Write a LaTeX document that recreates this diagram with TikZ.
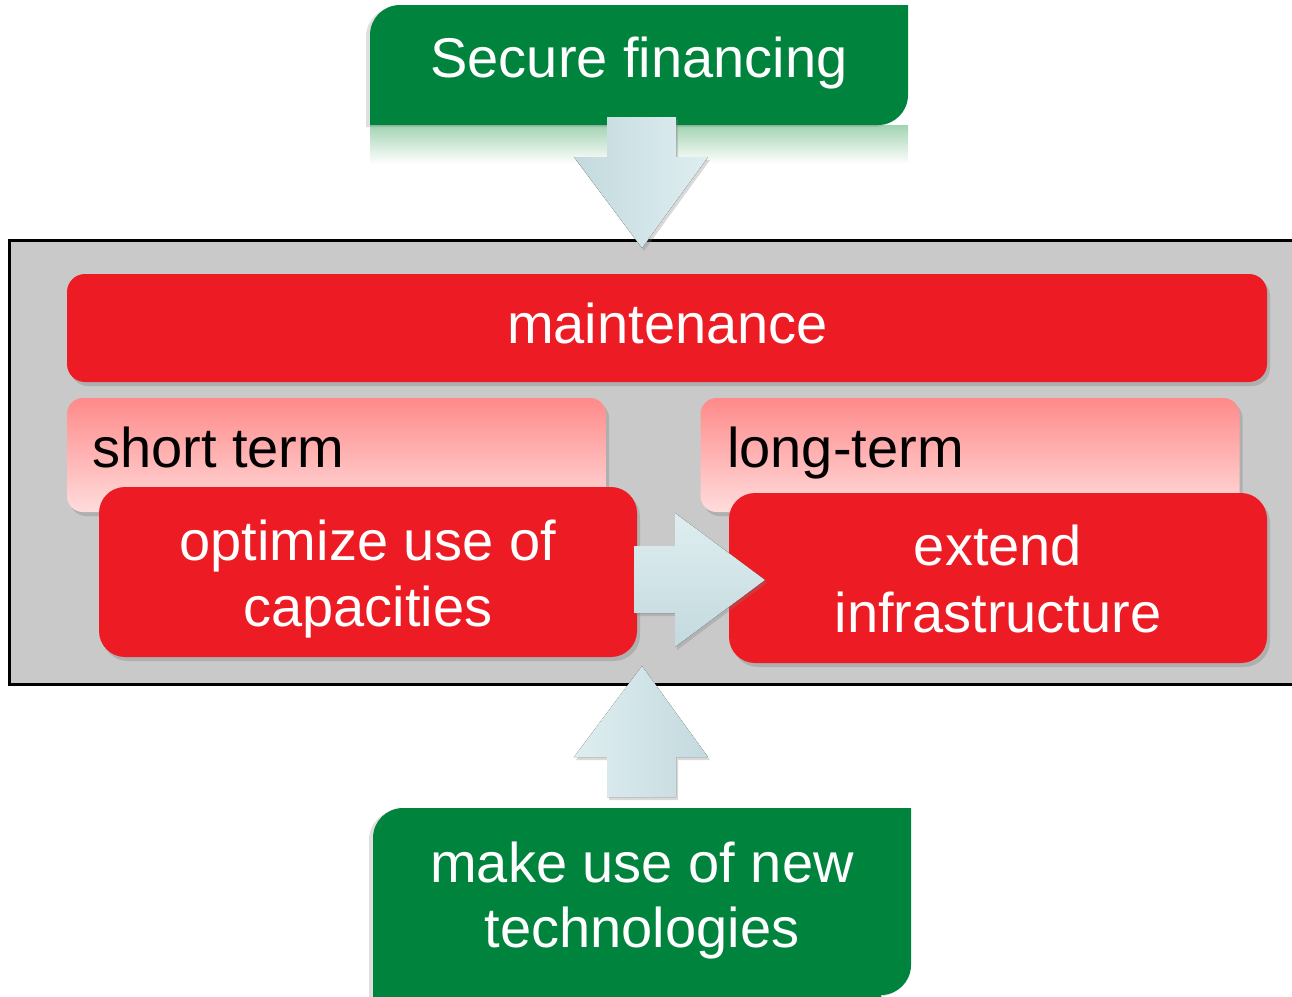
\documentclass[tikz,border=0pt]{standalone}
\usepackage{fontspec}
\setmainfont{Liberation Sans}
\usetikzlibrary{shadows}
\definecolor{grn}{HTML}{00843D}
\definecolor{rd}{HTML}{ED1C24}
\definecolor{panelgray}{HTML}{C9C9C9}
\definecolor{pinktop}{HTML}{FF8A8A}
\definecolor{pinkbot}{HTML}{FFDCDC}
\definecolor{arrA}{HTML}{C4DADE}
\definecolor{arrB}{HTML}{DEEEF0}
\definecolor{refl}{HTML}{A3D3B2}
\begin{document}
\begin{tikzpicture}[x=1pt,y=-1pt,
  txt/.style={font=\fontsize{56}{67}\selectfont, inner sep=0pt, anchor=base},
  wtxt/.style={txt, text=white},
  btxt/.style={txt, text=black, anchor=base west},
  boxshadow/.style={drop shadow={opacity=0.35, shadow xshift=3pt, shadow yshift=-4pt}},
  redbox/.style={fill=rd, draw=none, inner sep=0pt, boxshadow, minimum width=538pt, minimum height=170pt, rounded corners=26pt},
  pinkbox/.style={top color=pinktop, bottom color=pinkbot, draw=none, inner sep=0pt, boxshadow, minimum width=539pt, minimum height=114pt, rounded corners=16pt},
  greenshadow/.style={drop shadow={opacity=0.25, shadow xshift=-4pt, shadow yshift=-2pt}},
  blockarrow/.style={drop shadow={opacity=0.3, shadow xshift=2pt, shadow yshift=-3pt}}
]
\useasboundingbox (0,0) rectangle (1292,996);

% top green box with reflection
\fill[top color=refl, bottom color=white] (370,125) rectangle (908,164);
\fill[grn, greenshadow] (370,125) -- (370,35) .. controls (370,18.4) and (383.4,5) .. (400,5)
  -- (908,5) -- (908,95) .. controls (908,111.6) and (894.6,125) .. (878,125) -- cycle;
\coordinate (top) at (639,65);
\node[wtxt] (secure) at (639,77) {Secure financing};

% bottom green box
\fill[grn, greenshadow] (373,1000) -- (373,838) .. controls (373,821.4) and (386.4,808) .. (403,808)
  -- (911,808) -- (911,965) .. controls (911,981.6) and (897.6,995) .. (881,995) -- (881,1000) -- cycle;
\coordinate (bottom) at (642,900);
\node[wtxt] (make1) at (642,882) {make use of new};
\node[wtxt] (make2) at (642,947) {technologies};

% gray panel
\draw[line width=3pt, fill=panelgray] (9,240) rectangle (1310,684);

% maintenance
\node[fill=rd, draw=none, inner sep=0pt, boxshadow, minimum width=1200pt, minimum height=108pt, rounded corners=18pt] (maint) at (667,328) {};
\node[wtxt] (maintT) at (667.5,343) {maintenance};

% pink boxes
\node[pinkbox] (short) at (336.5,455) {};
\node[btxt] (shortT) at (92,467) {short term};
\node[pinkbox] (long) at (970,455) {};
\node[btxt] (longT) at (727,467) {long-term};

% red boxes
\node[redbox] (opt) at (368,572) {};
\node[wtxt] (opt1) at (368,560) {optimize use of};
\node[wtxt] (opt2) at (368,626) {capacities};
\node[redbox] (ext) at (998,578) {};
\node[wtxt] (ext1) at (998,565) {extend};
\node[wtxt] (ext2) at (998,632) {infrastructure};

% block arrows
\fill[left color=arrA, right color=arrB, blockarrow]
  (607,117) -- (676,117) -- (676,157) -- (708,157) -- (642,248) -- (574,157) -- (607,157) -- cycle;
\fill[left color=arrB, right color=arrA, blockarrow]
  (642,666) -- (708,757) -- (676,757) -- (676,797) -- (607,797) -- (607,757) -- (574,757) -- cycle;
\fill[top color=arrB, bottom color=arrA, blockarrow]
  (634,546) -- (675,546) -- (675,513) -- (765,580) -- (675,647) -- (675,613) -- (634,613) -- cycle;
\end{tikzpicture}
\end{document}
